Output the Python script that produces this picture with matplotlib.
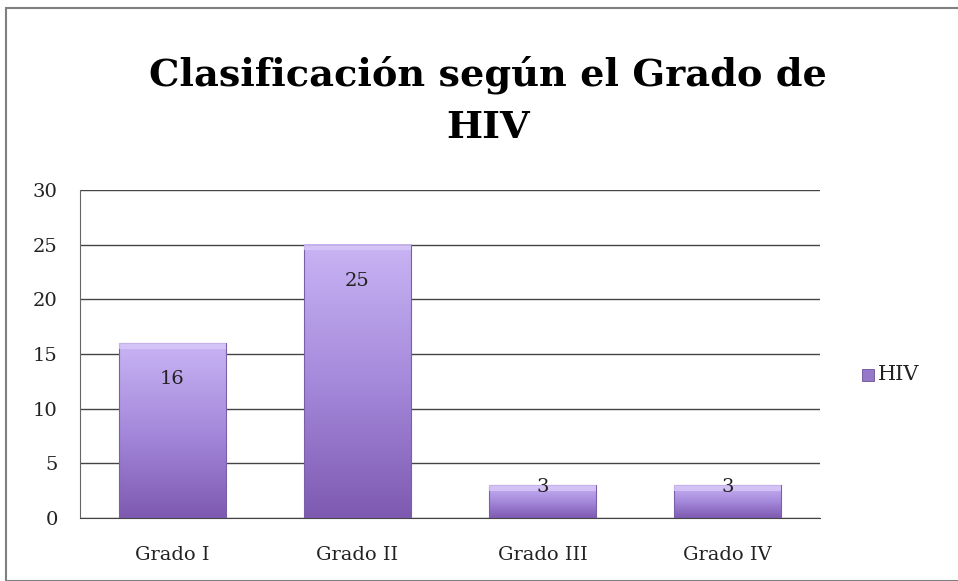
import numpy as np
import matplotlib
matplotlib.use('Agg')
from matplotlib import pyplot as plt
from matplotlib.patches import Rectangle
from matplotlib.colors import LinearSegmentedColormap

categories = ['Grado I', 'Grado II', 'Grado III', 'Grado IV']
values = [16, 25, 3, 3]
series_name = 'HIV'
title = 'Clasificación según el Grado de\nHIV'

plt.rcParams['font.family'] = ['DejaVu Serif']

fig = plt.figure(figsize=(9.58, 5.81), dpi=100)
fig.patches.append(Rectangle((6/958, 0), 1, 1 - 8/581, transform=fig.transFigure,
                             fill=False, edgecolor='#808080', linewidth=1.5))
ax = fig.add_axes([80/958, 1 - 518/581, 740/958, 328/581])

cmap = LinearSegmentedColormap.from_list('purp', ['#7d5ab0', '#a589db', '#c9b4f4'])
grad = np.linspace(0, 1, 256).reshape(-1, 1)
width = 0.58
x = np.arange(len(categories))
for i, v in enumerate(values):
    ax.imshow(grad, extent=(x[i] - width/2, x[i] + width/2, 0, v), origin='lower',
              cmap=cmap, aspect='auto', zorder=3)
    ax.add_patch(Rectangle((x[i] - width/2, 0), width, v, fill=False,
                           edgecolor='#7a60a8', linewidth=0.8, zorder=4))
    ax.add_patch(Rectangle((x[i] - width/2, v - 0.5), width, 0.5, facecolor='#d8c8f8',
                           edgecolor='none', alpha=0.8, zorder=4))
    ypos = v - 3.3 if v > 6 else v - 0.15
    ax.text(x[i], ypos, str(v), ha='center', va='center', fontsize=14, color='#222222', zorder=5)

ax.set_xlim(-0.5, len(categories) - 0.5)
ax.set_ylim(0, 30)
ax.set_yticks(range(0, 31, 5))
ax.set_xticks(x)
ax.set_xticklabels(categories)
ax.tick_params(axis='both', labelsize=14, length=0, colors='#222222')
ax.tick_params(axis='y', pad=16)
ax.tick_params(axis='x', pad=20)
ax.grid(axis='y', color='#444444', linewidth=1.0, zorder=0)
ax.set_axisbelow(True)
for s in ['top', 'right']:
    ax.spines[s].set_visible(False)
ax.spines['left'].set_color('#666666')
ax.spines['bottom'].set_color('#444444')

fig.text(488/958, 1 - 101/581, title, ha='center', va='center', fontsize=27.5, fontweight='bold',
         linespacing=1.5)

fig.patches.append(Rectangle((862/958, 1 - 381/581), 12/958, 12/581, transform=fig.transFigure,
                             facecolor='#9578c8', edgecolor='#6a5098', linewidth=0.6))
fig.text(878/958, 1 - 375/581, series_name, ha='left', va='center', fontsize=15, color='#222222')

fig.savefig('out.png', dpi=100)
